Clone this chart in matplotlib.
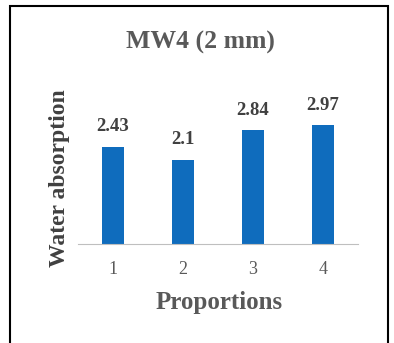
import matplotlib.pyplot as plt
from matplotlib.patches import Rectangle

proportions = ['1', '2', '3', '4']
water_absorption = [2.43, 2.1, 2.84, 2.97]

W, H = 394, 343
fig = plt.figure(figsize=(W / 100, H / 100), dpi=100)
plt.rcParams['font.family'] = ['Liberation Serif', 'DejaVu Serif']

# plot area in pixels: left 78, right 358, baseline 244, top 104
ax = fig.add_axes([78 / W, 1 - 244 / H, 280 / W, 140 / H])

x = range(len(proportions))
bars = ax.bar(x, water_absorption, width=0.31, color='#0F6CBD')
ax.set_xlim(-0.5, 3.5)
ax.set_ylim(0, 3.5)

for rect, v in zip(bars, water_absorption):
    ax.text(rect.get_x() + rect.get_width() / 2, v + 0.5, f'{v:g}',
            ha='center', va='center', fontsize=13.5, fontweight='bold',
            color='#404040', clip_on=False)

ax.set_xticks(list(x))
ax.set_xticklabels(proportions, fontsize=13, color='#595959')
ax.tick_params(axis='x', length=0, pad=12)
ax.set_yticks([])
for side in ['top', 'right', 'left']:
    ax.spines[side].set_visible(False)
ax.spines['bottom'].set_color('#BFBFBF')

fig.text(219 / W, 1 - 302 / H, 'Proportions', ha='center', va='center',
         fontsize=18, fontweight='bold', color='#595959')
fig.text(60 / W, 1 - 178 / H, 'Water absorption', rotation=90, ha='center',
         va='center', fontsize=17, fontweight='bold', color='#404040')

fig.text(200 / W, 1 - 42 / H, 'MW4 (2 mm)', ha='center', va='center',
         fontsize=18.5, fontweight='bold', color='#595959')

# black frame around the chart
fig.patches.append(Rectangle((10 / W, -0.05), 378 / W, 1.05 - 6 / H,
                             transform=fig.transFigure, fill=False,
                             edgecolor='black', linewidth=1.5))

fig.savefig('out.png', dpi=100)
